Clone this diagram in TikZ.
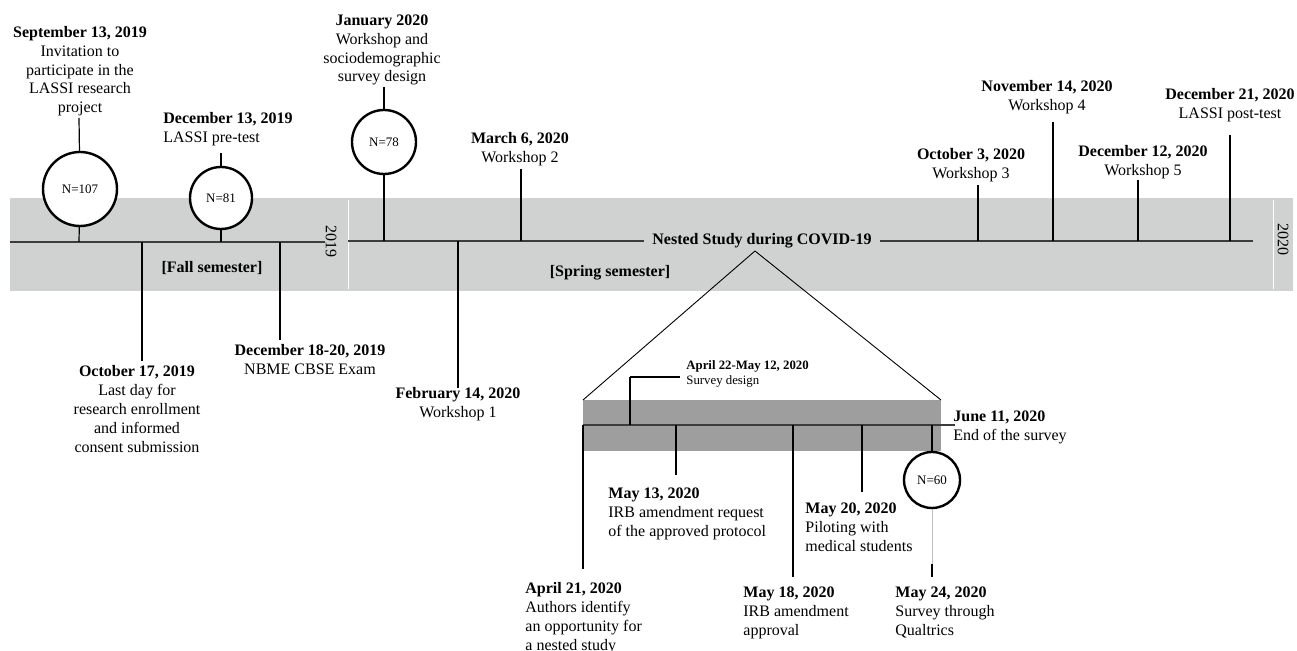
\documentclass[tikz,border=0pt]{standalone}
\usepackage{fontspec}
\setmainfont{Liberation Serif}
\usepackage{tikz}
\pgfdeclarelayer{edgelayer}
\pgfdeclarelayer{nodelayer}
\pgfsetlayers{edgelayer,nodelayer,main}
\definecolor{bandgray}{RGB}{208,209,209}
\definecolor{nestgray}{RGB}{158,158,158}
\definecolor{axisgray}{RGB}{60,60,60}
\definecolor{faintgray}{RGB}{190,190,190}
\tikzstyle{axis}=[draw=axisgray, line width=1pt]
\tikzstyle{tick}=[draw=black, line width=0.6pt]
\tikzstyle{thin}=[draw=black, line width=0.45pt]
\tikzstyle{count}=[circle, fill=white, draw=black, line width=1.2pt, inner sep=0pt, font=\fontsize{6.5}{7}\selectfont]
\tikzstyle{event}=[inner sep=0pt, align=center, anchor=north, font=\fontsize{8}{9.4}\selectfont]
\tikzstyle{leftevent}=[event, align=left, anchor=north west]
\tikzstyle{small}=[inner sep=0pt, align=left, anchor=north west, font=\fontsize{6.4}{7.5}\selectfont]
\tikzstyle{year}=[inner sep=0pt, rotate=-90, font=\fontsize{8}{9.4}\selectfont]
\tikzstyle{term}=[inner sep=0pt, font=\fontsize{8}{9.4}\selectfont\bfseries]

\begin{document}
\begin{tikzpicture}[x=0.5pt, y=-0.5pt]
	\useasboundingbox (0,0) rectangle (1297,651);
	\begin{pgfonlayer}{nodelayer}
		\node [style=count, minimum size=37pt] (1) at (80, 189) {N=107};
		\node [style=count, minimum size=31pt] (2) at (221, 198) {N=81};
		\node [style=count, minimum size=32pt] (3) at (384, 142) {N=78};
		\node [style=count, minimum size=28pt] (4) at (932, 480) {N=60};
		\node [style=event] (5) at (80, 26) {\textbf{September 13, 2019}\\Invitation to\\participate in the\\LASSI research\\project};
		\node [style=leftevent] (6) at (163, 112.5) {\textbf{December 13, 2019}\\LASSI pre-test};
		\node [style=event] (7) at (382, 14.5) {\textbf{January 2020}\\Workshop and\\sociodemographic\\survey design};
		\node [style=event] (8) at (520, 132.5) {\textbf{March 6, 2020}\\Workshop 2};
		\node [style=event] (9) at (971, 148.5) {\textbf{October 3, 2020}\\Workshop 3};
		\node [style=event] (10) at (1047, 80.5) {\textbf{November 14, 2020}\\Workshop 4};
		\node [style=event] (11) at (1143, 145.5) {\textbf{December 12, 2020}\\Workshop 5};
		\node [style=event] (12) at (1230, 88.5) {\textbf{December 21, 2020}\\LASSI post-test};
		\node [style=event] (13) at (137, 365.5) {\textbf{October 17, 2019}\\Last day for\\research enrollment\\and informed\\consent submission};
		\node [style=event] (14) at (310, 344.5) {\textbf{December 18-20, 2019}\\NBME CBSE Exam};
		\node [style=event] (15) at (458, 387.5) {\textbf{February 14, 2020}\\Workshop 1};
		\node [style=leftevent] (16) at (525, 582.5) {\textbf{April 21, 2020}\\Authors identify\\an opportunity for\\a nested study};
		\node [style=small] (17) at (686, 360.5) {\textbf{April 22-May 12, 2020}\\Survey design};
		\node [style=leftevent] (18) at (608, 487.5) {\textbf{May 13, 2020}\\IRB amendment request\\of the approved protocol};
		\node [style=leftevent] (19) at (743, 586.5) {\textbf{May 18, 2020}\\IRB amendment\\approval};
		\node [style=leftevent] (20) at (805, 502.5) {\textbf{May 20, 2020}\\Piloting with\\medical students};
		\node [style=leftevent] (21) at (895, 586.5) {\textbf{May 24, 2020}\\Survey through\\Qualtrics};
		\node [style=leftevent] (22) at (953, 410.5) {\textbf{June 11, 2020}\\End of the survey};
		\node [style=year] (23) at (331, 242) {2019};
		\node [style=year] (24) at (1283, 240) {2020};
		\node [style=term] (25) at (212, 268) {[Fall semester]};
		\node [style=term] (26) at (610, 273) {[Spring semester]};
		\node [style=term, inner xsep=4pt] (27) at (762, 241) {Nested Study during COVID-19};
	\end{pgfonlayer}
	\coordinate (30) at (10, 242);
	\coordinate (31) at (79, 118);
	\coordinate (32) at (79, 242);
	\coordinate (33) at (221, 153);
	\coordinate (34) at (221, 242);
	\coordinate (35) at (142, 242);
	\coordinate (36) at (142, 361);
	\coordinate (37) at (280, 242);
	\coordinate (38) at (280, 340);
	\coordinate (39) at (348, 241);
	\coordinate (40) at (384, 87);
	\coordinate (41) at (384, 241);
	\coordinate (42) at (458, 241);
	\coordinate (43) at (458, 388);
	\coordinate (44) at (521, 169);
	\coordinate (45) at (521, 241);
	\coordinate (46) at (978, 185);
	\coordinate (47) at (978, 241);
	\coordinate (48) at (1053, 122);
	\coordinate (49) at (1053, 241);
	\coordinate (50) at (1138, 180);
	\coordinate (51) at (1138, 241);
	\coordinate (52) at (1230, 135);
	\coordinate (53) at (1230, 241);
	\coordinate (54) at (1253, 241);
	\coordinate (55) at (755, 251);
	\coordinate (56) at (583, 400);
	\coordinate (57) at (941, 400);
	\coordinate (58) at (583, 425);
	\coordinate (59) at (955, 425);
	\coordinate (60) at (583, 569);
	\coordinate (61) at (630, 425);
	\coordinate (62) at (630, 377);
	\coordinate (63) at (680, 377);
	\coordinate (64) at (676, 425);
	\coordinate (65) at (676, 475);
	\coordinate (66) at (793, 425);
	\coordinate (67) at (793, 577);
	\coordinate (68) at (862, 425);
	\coordinate (69) at (862, 492);
	\coordinate (70) at (932, 425);
	\coordinate (71) at (932, 564);
	\coordinate (72) at (932, 577);
	\begin{pgfonlayer}{edgelayer}
		\fill [bandgray] (10, 198) rectangle (1293, 291);
		\draw [white, line width=0.5pt] (348, 200) -- (348, 289);
		\draw [white, line width=0.5pt] (1273, 200) -- (1273, 289);
		\fill [nestgray] (56) rectangle (941, 451);
		% main time line
		\draw [style=axis] (30) to (23);
		\draw [style=axis] (39) to (27);
		\draw [style=axis] (27) to (54);
		\draw [style=tick] (31) to (1);
		\draw [style=tick] (1) to (32);
		\draw [style=tick] (33) to (2);
		\draw [style=tick] (2) to (34);
		\draw [style=tick] (35) to (36);
		\draw [style=tick] (37) to (38);
		\draw [style=tick] (40) to (3);
		\draw [style=tick] (3) to (41);
		\draw [style=tick] (42) to (43);
		\draw [style=tick] (44) to (45);
		\draw [style=tick] (46) to (47);
		\draw [style=tick] (48) to (49);
		\draw [style=tick] (50) to (51);
		\draw [style=tick] (52) to (53);
		% nested study
		\draw [style=thin] (56) to (55);
		\draw [style=thin] (55) to (57);
		\draw [style=tick, draw=axisgray] (58) to (59);
		\draw [style=tick] (58) to (60);
		\draw [style=tick] (61) to (62);
		\draw [style=tick] (62) to (63);
		\draw [style=tick] (64) to (65);
		\draw [style=tick] (66) to (67);
		\draw [style=tick] (68) to (69);
		\draw [style=tick] (70) to (4);
		\draw [draw=faintgray, line width=0.5pt] (4) to (71);
		\draw [style=tick] (71) to (72);
	\end{pgfonlayer}
\end{tikzpicture}
\end{document}
